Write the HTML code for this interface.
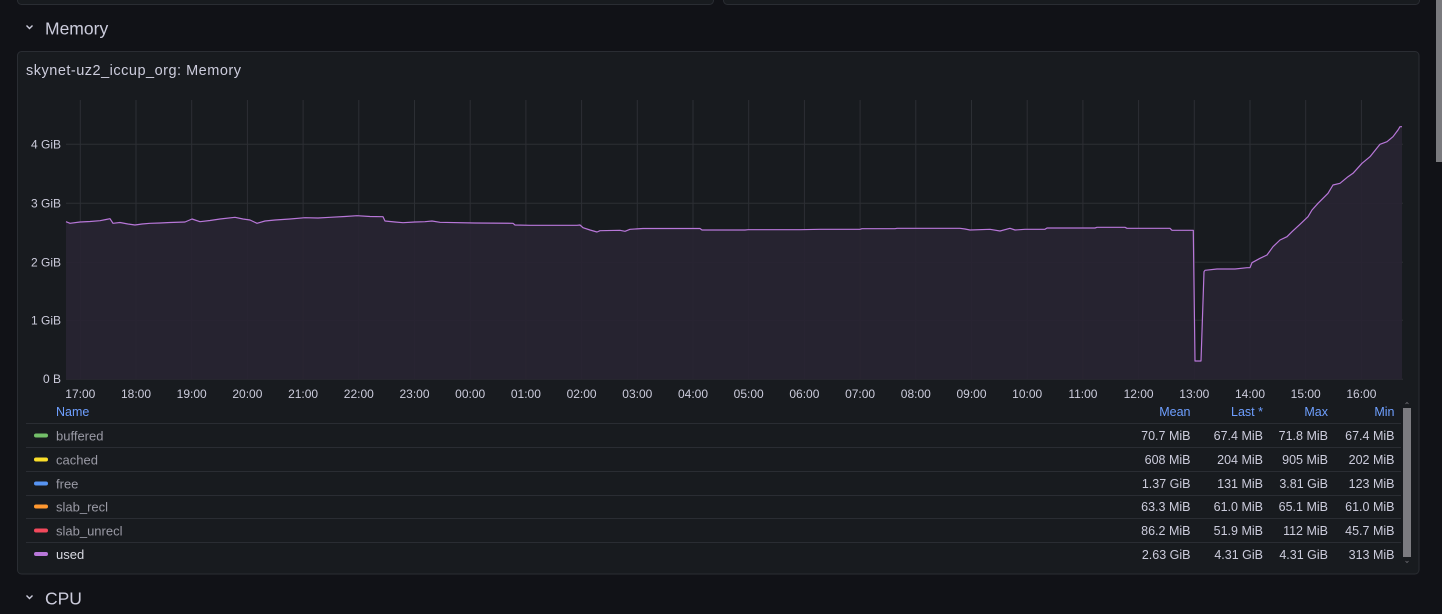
<!DOCTYPE html>
<html><head><meta charset="utf-8">
<style>
html,body{margin:0;padding:0;background:#111217;width:1442px;height:614px;overflow:hidden;}
svg{display:block;font-family:"Liberation Sans",sans-serif;}
</style></head>
<body>
<svg width="1442" height="614" viewBox="0 0 1442 614" xmlns="http://www.w3.org/2000/svg">
<rect x="0" y="0" width="1442" height="614" fill="#111217"/>
<!-- top partial panels -->
<rect x="17.5" y="-10" width="696" height="14.5" rx="4" fill="#181b1f" stroke="#2a2d33"/>
<rect x="723.5" y="-10" width="696" height="14.5" rx="4" fill="#181b1f" stroke="#2a2d33"/>
<!-- page scrollbar -->
<rect x="1436" y="0" width="6" height="162" fill="#7a7a7e"/>
<!-- Memory row header -->
<path d="M26.5 25.5 L29.5 28.5 L32.5 25.5" fill="none" stroke="#ccccdc" stroke-width="1.4"/>
<text x="45" y="34.3" font-size="17.5" fill="#ccccdc">Memory</text>
<!-- panel -->
<rect x="17.5" y="51.5" width="1401.5" height="522.5" rx="4" fill="#181b1f" stroke="#2a2d33"/>
<text x="26" y="75" font-size="14.5" letter-spacing="0.5" fill="#ccccdc">skynet-uz2_iccup_org: Memory</text>
<!-- grid -->
<g stroke="#2c2f34" stroke-width="1">
<line x1="66" y1="144.3" x2="1403" y2="144.3"/>
<line x1="66" y1="203.3" x2="1403" y2="203.3"/>
<line x1="66" y1="262.3" x2="1403" y2="262.3"/>
<line x1="66" y1="320.3" x2="1403" y2="320.3"/>
<line x1="66" y1="379.3" x2="1403" y2="379.3"/>
</g>
<g stroke="#2c2f34" stroke-width="1" id="vg">
<line x1="80.3" y1="100" x2="80.3" y2="379"/>
<line x1="136" y1="100" x2="136" y2="379"/>
<line x1="191.7" y1="100" x2="191.7" y2="379"/>
<line x1="247.4" y1="100" x2="247.4" y2="379"/>
<line x1="303.1" y1="100" x2="303.1" y2="379"/>
<line x1="358.8" y1="100" x2="358.8" y2="379"/>
<line x1="414.5" y1="100" x2="414.5" y2="379"/>
<line x1="470.2" y1="100" x2="470.2" y2="379"/>
<line x1="525.9" y1="100" x2="525.9" y2="379"/>
<line x1="581.6" y1="100" x2="581.6" y2="379"/>
<line x1="637.3" y1="100" x2="637.3" y2="379"/>
<line x1="693" y1="100" x2="693" y2="379"/>
<line x1="748.7" y1="100" x2="748.7" y2="379"/>
<line x1="804.4" y1="100" x2="804.4" y2="379"/>
<line x1="860.1" y1="100" x2="860.1" y2="379"/>
<line x1="915.8" y1="100" x2="915.8" y2="379"/>
<line x1="971.5" y1="100" x2="971.5" y2="379"/>
<line x1="1027.2" y1="100" x2="1027.2" y2="379"/>
<line x1="1082.9" y1="100" x2="1082.9" y2="379"/>
<line x1="1138.6" y1="100" x2="1138.6" y2="379"/>
<line x1="1194.3" y1="100" x2="1194.3" y2="379"/>
<line x1="1250" y1="100" x2="1250" y2="379"/>
<line x1="1305.7" y1="100" x2="1305.7" y2="379"/>
<line x1="1361.4" y1="100" x2="1361.4" y2="379"/>
</g>
<!-- series fill -->
<path fill="#282432" fill-opacity="0.92" d="M66,221.7 L70,223.3 L80,222 L90,221.5 L100,220.7 L106,219.5 L110,218.7 L113,223.3 L120,222.5 L128,224 L135,225 L142,224 L150,223.3 L160,223 L170,222.5 L185,222 L192,219 L200,221.7 L210,220.5 L220,219 L235,217.3 L243,219 L250,220 L257,223.3 L265,221 L275,220 L290,219 L305,217.7 L318,218 L330,217.3 L345,216.5 L357,215.7 L370,216.5 L383,216.7 L385,221 L395,222 L403,222.7 L415,222 L425,221.7 L432,221 L440,222.3 L475,223 L513,223.3 L515,225 L530,225.3 L577,225.3 L580,225 L583,227.7 L590,230 L597,232 L600,230.7 L620,230.3 L625,231.3 L630,229.3 L643,228.5 L700,228.5 L702,230 L745,230 L748,229.7 L800,229.7 L820,229.3 L860,229.3 L862,228.7 L895,228.7 L897,228.3 L960,228.3 L965,229 L970,230 L990,229.3 L1000,231 L1010,228.3 L1015,230 L1025,229.3 L1045,229.3 L1047,228 L1095,228 L1097,227.3 L1125,227.3 L1127,228.3 L1170,228.3 L1172,230.3 L1193.3,230.3 L1195,361 L1201,361 L1204,271.7 L1205,270.3 L1217,269 L1235,269 L1247,267.7 L1250,267.7 L1252,262.7 L1260,258.3 L1267,255 L1273,246.7 L1280,240 L1287,236.7 L1292,231.7 L1300,224.3 L1308,216.7 L1312,210 L1318,203.3 L1328,193.3 L1333,185 L1340,183.3 L1348,176.7 L1353,173.3 L1362,163.3 L1370,156.7 L1380,144.3 L1387,141.7 L1393,136.7 L1398,130 L1400,126.7 L1402,126.7 L1402,379.3 L66,379.3 Z"/>
<path fill="none" stroke="#b877d9" stroke-width="1.2" stroke-linejoin="round" d="M66,221.7 L70,223.3 L80,222 L90,221.5 L100,220.7 L106,219.5 L110,218.7 L113,223.3 L120,222.5 L128,224 L135,225 L142,224 L150,223.3 L160,223 L170,222.5 L185,222 L192,219 L200,221.7 L210,220.5 L220,219 L235,217.3 L243,219 L250,220 L257,223.3 L265,221 L275,220 L290,219 L305,217.7 L318,218 L330,217.3 L345,216.5 L357,215.7 L370,216.5 L383,216.7 L385,221 L395,222 L403,222.7 L415,222 L425,221.7 L432,221 L440,222.3 L475,223 L513,223.3 L515,225 L530,225.3 L577,225.3 L580,225 L583,227.7 L590,230 L597,232 L600,230.7 L620,230.3 L625,231.3 L630,229.3 L643,228.5 L700,228.5 L702,230 L745,230 L748,229.7 L800,229.7 L820,229.3 L860,229.3 L862,228.7 L895,228.7 L897,228.3 L960,228.3 L965,229 L970,230 L990,229.3 L1000,231 L1010,228.3 L1015,230 L1025,229.3 L1045,229.3 L1047,228 L1095,228 L1097,227.3 L1125,227.3 L1127,228.3 L1170,228.3 L1172,230.3 L1193.3,230.3 L1195,361 L1201,361 L1204,271.7 L1205,270.3 L1217,269 L1235,269 L1247,267.7 L1250,267.7 L1252,262.7 L1260,258.3 L1267,255 L1273,246.7 L1280,240 L1287,236.7 L1292,231.7 L1300,224.3 L1308,216.7 L1312,210 L1318,203.3 L1328,193.3 L1333,185 L1340,183.3 L1348,176.7 L1353,173.3 L1362,163.3 L1370,156.7 L1380,144.3 L1387,141.7 L1393,136.7 L1398,130 L1400,126.7 L1402,126.7"/>
<!-- y labels -->
<g font-size="12" fill="#ccccdc" text-anchor="end">
<text x="61" y="148.3">4 GiB</text>
<text x="61" y="207.3">3 GiB</text>
<text x="61" y="266.3">2 GiB</text>
<text x="61" y="324.3">1 GiB</text>
<text x="61" y="383">0 B</text>
</g>
<!-- x labels -->
<g font-size="12" fill="#ccccdc" text-anchor="middle">
<text x="80.3" y="398">17:00</text>
<text x="136" y="398">18:00</text>
<text x="191.7" y="398">19:00</text>
<text x="247.4" y="398">20:00</text>
<text x="303.1" y="398">21:00</text>
<text x="358.8" y="398">22:00</text>
<text x="414.5" y="398">23:00</text>
<text x="470.2" y="398">00:00</text>
<text x="525.9" y="398">01:00</text>
<text x="581.6" y="398">02:00</text>
<text x="637.3" y="398">03:00</text>
<text x="693" y="398">04:00</text>
<text x="748.7" y="398">05:00</text>
<text x="804.4" y="398">06:00</text>
<text x="860.1" y="398">07:00</text>
<text x="915.8" y="398">08:00</text>
<text x="971.5" y="398">09:00</text>
<text x="1027.2" y="398">10:00</text>
<text x="1082.9" y="398">11:00</text>
<text x="1138.6" y="398">12:00</text>
<text x="1194.3" y="398">13:00</text>
<text x="1250" y="398">14:00</text>
<text x="1305.7" y="398">15:00</text>
<text x="1361.4" y="398">16:00</text>
</g>
<!-- legend header -->
<g font-size="12.5" fill="#6e9fff">
<text x="56" y="416">Name</text>
<g text-anchor="end">
<text x="1190.5" y="416">Mean</text>
<text x="1263" y="416">Last *</text>
<text x="1328" y="416">Max</text>
<text x="1394.5" y="416">Min</text>
</g>
</g>
<g stroke="#2a2d33" stroke-width="1">
<line x1="26" y1="423.5" x2="1401" y2="423.5"/>
<line x1="26" y1="447.5" x2="1401" y2="447.5"/>
<line x1="26" y1="471.5" x2="1401" y2="471.5"/>
<line x1="26" y1="495.5" x2="1401" y2="495.5"/>
<line x1="26" y1="518.5" x2="1401" y2="518.5"/>
<line x1="26" y1="542.5" x2="1401" y2="542.5"/>
</g>
<!-- swatches -->
<rect x="34" y="433.5" width="14" height="4" rx="2" fill="#73bf69"/>
<rect x="34" y="457.5" width="14" height="4" rx="2" fill="#fade2a"/>
<rect x="34" y="481.5" width="14" height="4" rx="2" fill="#5794f2"/>
<rect x="34" y="504.5" width="14" height="4" rx="2" fill="#ff9830"/>
<rect x="34" y="528.5" width="14" height="4" rx="2" fill="#f2495c"/>
<rect x="34" y="552" width="14" height="4" rx="2" fill="#b877d9"/>
<g font-size="13" fill="#9a9aa5">
<text x="56" y="440.5">buffered</text>
<text x="56" y="464.5">cached</text>
<text x="56" y="488.5">free</text>
<text x="56" y="511.5">slab_recl</text>
<text x="56" y="535.5">slab_unrecl</text>
<text x="56" y="559" fill="#d8d9e1">used</text>
</g>
<g font-size="12.5" fill="#ccccdc" text-anchor="end">
<text x="1190.5" y="440">70.7 MiB</text><text x="1263" y="440">67.4 MiB</text><text x="1328" y="440">71.8 MiB</text><text x="1394.5" y="440">67.4 MiB</text>
<text x="1190.5" y="464">608 MiB</text><text x="1263" y="464">204 MiB</text><text x="1328" y="464">905 MiB</text><text x="1394.5" y="464">202 MiB</text>
<text x="1190.5" y="488">1.37 GiB</text><text x="1263" y="488">131 MiB</text><text x="1328" y="488">3.81 GiB</text><text x="1394.5" y="488">123 MiB</text>
<text x="1190.5" y="511">63.3 MiB</text><text x="1263" y="511">61.0 MiB</text><text x="1328" y="511">65.1 MiB</text><text x="1394.5" y="511">61.0 MiB</text>
<text x="1190.5" y="535">86.2 MiB</text><text x="1263" y="535">51.9 MiB</text><text x="1328" y="535">112 MiB</text><text x="1394.5" y="535">45.7 MiB</text>
<text x="1190.5" y="559">2.63 GiB</text><text x="1263" y="559">4.31 GiB</text><text x="1328" y="559">4.31 GiB</text><text x="1394.5" y="559">313 MiB</text>
</g>
<!-- legend scrollbar -->
<rect x="1403" y="408" width="8" height="149" fill="#7b7b80"/>
<path d="M1405.5 404 L1407 402.5 L1408.5 404" fill="none" stroke="#6a6a70" stroke-width="0.8"/>
<path d="M1405.5 561 L1407 562.5 L1408.5 561" fill="none" stroke="#6a6a70" stroke-width="0.8"/>
<!-- CPU row header -->
<path d="M26.5 595.5 L29.5 598.5 L32.5 595.5" fill="none" stroke="#ccccdc" stroke-width="1.4"/>
<text x="45" y="604.3" font-size="17.5" fill="#ccccdc">CPU</text>
</svg>
</body></html>
